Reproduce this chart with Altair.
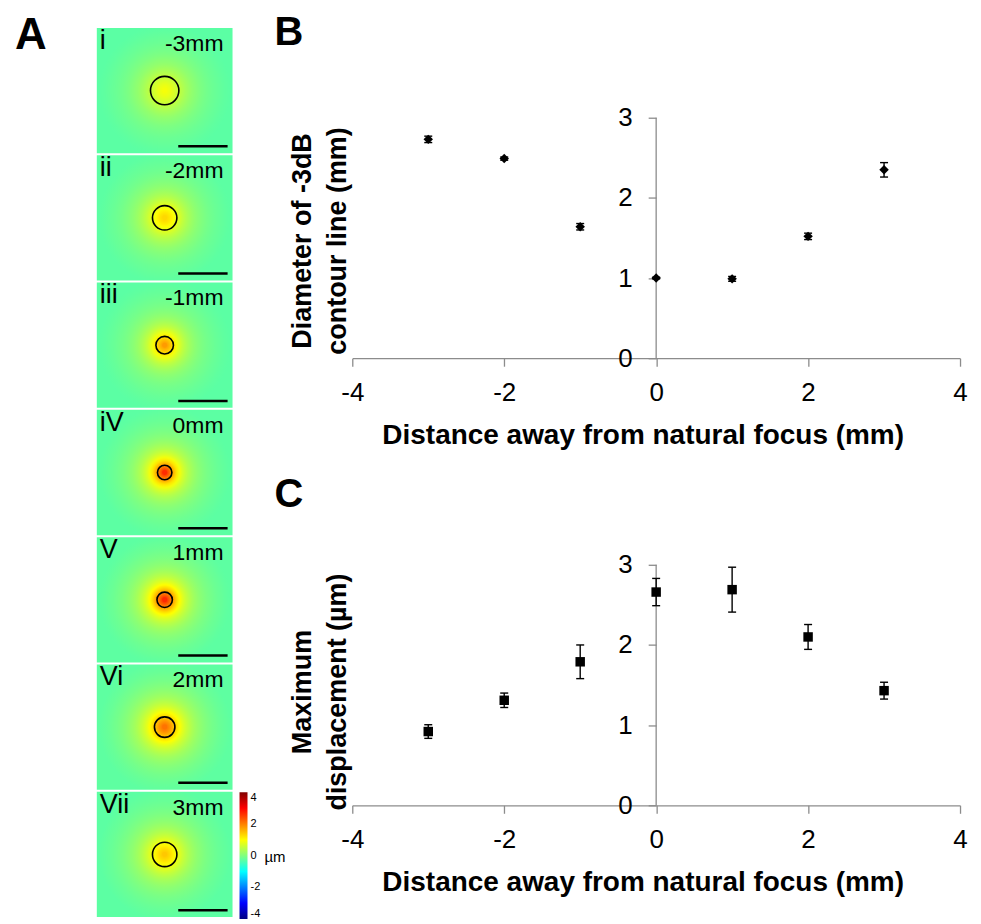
import math
import altair as alt
import pandas as pd

FONT = "Liberation Sans"

# ---------------- data ----------------
# Panel B / C : distance from natural focus (mm)
dist_mm = [-3, -2, -1, 0, 1, 2, 3]
# B: diameter of -3dB contour line (mm) and its error
diam_mm = [2.73, 2.49, 1.64, 1.00, 0.99, 1.52, 2.35]
diam_err = [0.04, 0.02, 0.04, 0.01, 0.03, 0.04, 0.09]
# C: maximum displacement (um) and its error
disp_um = [0.92, 1.31, 1.79, 2.66, 2.69, 2.10, 1.43]
disp_err = [0.085, 0.09, 0.21, 0.17, 0.28, 0.155, 0.105]

# Panel A : displacement maps
tile_ids = ["i", "ii", "iii", "iV", "V", "Vi", "Vii"]
tile_labels = ["-3mm", "-2mm", "-1mm", "0mm", "1mm", "2mm", "3mm"]
contour_img_mm = [2.30, 1.98, 1.42, 1.17, 1.25, 1.66, 1.98]   # drawn -3dB circles
peak_um = [0.92, 1.31, 1.79, 2.66, 2.69, 2.10, 1.43]           # centre displacement
background_um = -0.35
FOV_MM = 11.0          # field of view of each map
SCALEBAR_MM = 4.0
cbar_ticks = [-4, -2, 0, 2, 4]
cmap_values = [-4, -3, -2, -1, 0, 1, 2, 3, 4]

# ---------------- layout constants ----------------
TILE_W = 136
A_H = 891
P_W = 609
P_H = 331
Y_TOP = 3 * P_H / 241.0
PLAIN_VIEW = alt.ViewBackground(fill="white")


def jet_hex(v):
    x = (v + 4) / 8.0

    def c(t):
        return max(0.0, min(1.0, t))
    r = c(1.5 - abs(4 * x - 3))
    g = c(1.5 - abs(4 * x - 2))
    b = c(1.5 - abs(4 * x - 1))
    return "#%02x%02x%02x" % (round(r * 255), round(g * 255), round(b * 255))


cmap_colors = [jet_hex(v) for v in cmap_values]
PX_PER_MM = TILE_W / FOV_MM


def profile(r, rc):
    a = 1.134 * rc

    def f(rr):
        return 1.0 / math.sqrt(1 + (rr / a) ** 2)
    fr = f(80)
    return max(0.0, (f(r) - fr) / (1 - fr))


tiles = pd.DataFrame({
    "tile": tile_ids, "label": tile_labels, "contour": contour_img_mm, "peak": peak_um,
    "x0": [0.0] * 7, "x1": [FOV_MM] * 7, "xc": [FOV_MM / 2] * 7,
    "sb0": [FOV_MM - 0.4 - SCALEBAR_MM] * 7, "sb1": [FOV_MM - 0.4] * 7,
})

xs_a = alt.Scale(domain=[0, FOV_MM], nice=False, zero=False)
ys_a = alt.Scale(type="band", domain=tile_ids, paddingInner=0.016, paddingOuter=0)


def ya(bp=None):
    if bp is None:
        return alt.Y("tile:N", scale=ys_a, axis=None)
    return alt.Y("tile:N", scale=ys_a, axis=None, bandPosition=bp)


layers_a = []
for tid, d, pk in zip(tile_ids, contour_img_mm, peak_um):
    rc = d / 2 * PX_PER_MM
    stops = []
    for r in range(0, 69, 3):
        v = background_um + (pk - background_um) * profile(r, rc)
        stops.append({"offset": r / 68.0, "color": jet_hex(v)})
    grad = {"gradient": "radial", "x1": 0.5, "y1": 0.5, "r1": 0,
            "x2": 0.5, "y2": 0.5, "r2": 0.5, "stops": stops}
    layers_a.append(
        alt.Chart(tiles).transform_filter(alt.datum.tile == tid)
        .mark_rect(fill=grad, strokeWidth=0)
        .encode(x=alt.X("x0:Q", scale=xs_a, axis=None), x2="x1:Q", y=ya())
    )

circles = alt.Chart(tiles).mark_point(shape="circle", filled=False, stroke="black",
                                      strokeWidth=1.6, opacity=1).encode(
    x=alt.X("xc:Q", scale=xs_a, axis=None), y=ya(0.5),
    size=alt.Size("contour:Q", scale=alt.Scale(type="pow", exponent=2, domain=[0, FOV_MM],
                                               range=[0, TILE_W ** 2]), legend=None))

dots = alt.Chart(tiles).mark_point(shape="circle", filled=True, size=25, opacity=1,
                                   strokeWidth=0).encode(
    x=alt.X("xc:Q", scale=xs_a, axis=None), y=ya(0.5),
    color=alt.Color("peak:Q",
                    scale=alt.Scale(domain=cmap_values, range=cmap_colors, interpolate="rgb"),
                    legend=alt.Legend(orient="none", legendX=143, legendY=766,
                                      direction="vertical", gradientLength=127,
                                      gradientThickness=8, gradientStrokeWidth=0,
                                      values=cbar_ticks, labelFontSize=11, labelFont=FONT,
                                      labelColor="black", labelOffset=3, title=None,
                                      labelExpr="datum.value + ''")))

scalebars = alt.Chart(tiles).mark_rule(color="black", strokeWidth=2.5).encode(
    x=alt.X("sb0:Q", scale=xs_a, axis=None), x2="sb1:Q", y=ya(0.945))

numerals = alt.Chart(tiles).mark_text(align="left", baseline="top", font=FONT, fontSize=27,
                                      color="black", dy=0).encode(
    x=alt.value(3), y=ya(0), text="tile:N")

mmlabels = alt.Chart(tiles).mark_text(align="right", baseline="top", font=FONT, fontSize=23,
                                      color="black", dy=5).encode(
    x=alt.value(127), y=ya(0), text="label:N")

letter_a = alt.Chart(pd.DataFrame({"t": ["A"]})).mark_text(
    align="left", baseline="top", font=FONT, fontSize=44, fontWeight="bold", color="black"
).encode(x=alt.value(-82), y=alt.value(-14), text="t:N")

unit_a = alt.Chart(pd.DataFrame({"t": ["\u00b5m"]})).mark_text(
    align="left", baseline="middle", font=FONT, fontSize=15, color="black"
).encode(x=alt.value(168), y=alt.value(831), text="t:N")

panel_a = alt.layer(*layers_a, circles, dots, scalebars, numerals, mmlabels,
                    letter_a, unit_a).properties(width=TILE_W, height=A_H, view=PLAIN_VIEW)

# ---------------- panels B and C ----------------
AX_GRAY = "#8c8c8c"
X_TITLE = "Distance away from natural focus (mm)"


def make_panel(values, errs, shape, letter, letter_y, ytitle, title_y):
    df = pd.DataFrame({"dist": dist_mm, "val": values,
                       "lo": [v - e for v, e in zip(values, errs)],
                       "hi": [v + e for v, e in zip(values, errs)]})
    xs = alt.Scale(domain=[-4, 4], nice=False, zero=False)
    ys = alt.Scale(domain=[0, Y_TOP], nice=False, zero=False)
    xaxis = alt.Axis(values=[-4, -2, 0, 2, 4], grid=False, tickSize=8, tickColor=AX_GRAY,
                     tickWidth=1.3, domainColor=AX_GRAY, domainWidth=1.3,
                     labelFont=FONT, labelFontSize=26, labelColor="black", labelPadding=13,
                     labelFlush=False, labelOverlap=False, labelExpr="datum.value + ''",
                     title=X_TITLE, titleFont=FONT, titleFontSize=28, titleFontWeight="bold",
                     titleColor="black", titleX=291, titleY=85, titleAlign="center",
                     titleBaseline="alphabetic")
    yaxis = alt.Axis(values=[0, 1, 2, 3], grid=False, domain=False, offset=-P_W / 2,
                     tickSize=8, tickColor=AX_GRAY, tickWidth=1.3,
                     labelFont=FONT, labelFontSize=26, labelColor="black", labelPadding=16,
                     labelOverlap=False, labelExpr="datum.value + ''",
                     title=ytitle, titleFont=FONT, titleFontSize=27, titleFontWeight="bold",
                     titleColor="black", titleAngle=270, titleAlign="center",
                     titleBaseline="middle", titleLineHeight=35,
                     titleX=-50 - P_W / 2, titleY=title_y)

    def xe(f):
        return alt.X(f, type="quantitative", scale=xs, axis=xaxis)

    def ye(f):
        return alt.Y(f, type="quantitative", scale=ys, axis=yaxis)

    axis_df = pd.DataFrame({"x0": [0.0], "y0": [0.0], "y1": [3.0]})
    yline = alt.Chart(axis_df).mark_rule(color=AX_GRAY, strokeWidth=1.3).encode(
        x=xe("x0"), y=ye("y0"), y2="y1")
    bars = alt.Chart(df).mark_rule(color="black", strokeWidth=1.4).encode(
        x=xe("dist"), y=ye("lo"), y2="hi")
    cap_lo = alt.Chart(df).mark_tick(orient="horizontal", size=8, thickness=1.4,
                                     color="black", opacity=1).encode(x=xe("dist"), y=ye("lo"))
    cap_hi = alt.Chart(df).mark_tick(orient="horizontal", size=8, thickness=1.4,
                                     color="black", opacity=1).encode(x=xe("dist"), y=ye("hi"))
    pts = alt.Chart(df).mark_point(shape=shape, filled=True, size=90, color="black",
                                   opacity=1).encode(x=xe("dist"), y=ye("val"))
    lab = alt.Chart(pd.DataFrame({"t": [letter]})).mark_text(
        align="left", baseline="top", font=FONT, fontSize=40, fontWeight="bold", color="black"
    ).encode(x=alt.value(-78), y=alt.value(letter_y), text="t:N")
    return alt.layer(yline, bars, cap_lo, cap_hi, pts, lab).properties(
        width=P_W, height=P_H, view=PLAIN_VIEW)


panel_b = make_panel(diam_mm, diam_err, "diamond", "B", -15,
                     ["Diameter of -3dB", "contour line (mm)"], 213)
panel_c = make_panel(disp_um, disp_err, "square", "C", 0,
                     ["Maximum", "displacement (\u00b5m)"], 217)

right = alt.vconcat(panel_b, panel_c, spacing=117, bounds="flush")
chart = alt.hconcat(panel_a, right, spacing=120, bounds="flush").properties(
    padding={"left": 7, "top": 4, "right": 5, "bottom": 5}
).configure(font=FONT).configure_view(stroke="transparent", strokeWidth=0)

chart.save("out.html", embed_options={"renderer": "svg", "actions": False})
